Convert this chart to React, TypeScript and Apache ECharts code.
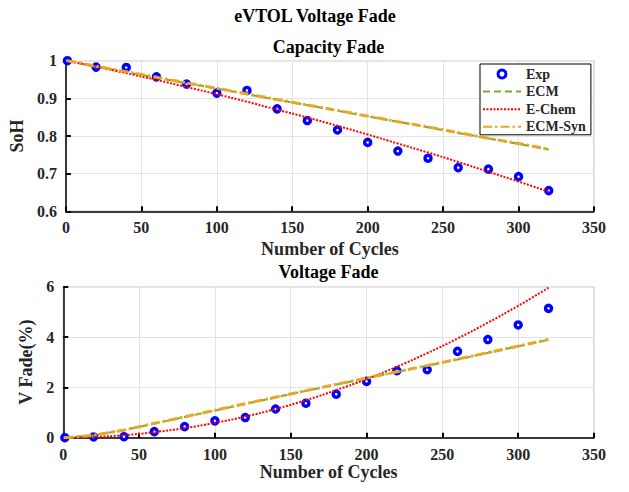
import React, { useEffect, useRef } from "react";
import * as echarts from "echarts";

const CYCLES = [1, 20, 40, 60, 80, 100, 120, 140, 160, 180, 200, 220, 240, 260, 280, 300, 320];

const SOH_EXP = [1.0, 0.983, 0.982, 0.957, 0.938, 0.914, 0.921, 0.872, 0.841, 0.816, 0.783, 0.76, 0.741, 0.716, 0.712, 0.692, 0.655];
const SOH_ECM = [1.0, 0.984, 0.970, 0.955, 0.940, 0.926, 0.911, 0.896, 0.882, 0.867, 0.852, 0.838, 0.823, 0.808, 0.794, 0.779, 0.764];
const SOH_ECHEM = [1.0, 0.984, 0.967, 0.949, 0.93, 0.911, 0.891, 0.87, 0.849, 0.827, 0.804, 0.78, 0.756, 0.731, 0.705, 0.679, 0.652];
const SOH_SYN = [1.0, 0.985, 0.971, 0.956, 0.941, 0.927, 0.912, 0.897, 0.882, 0.868, 0.853, 0.838, 0.824, 0.809, 0.794, 0.78, 0.765];

const VF_EXP = [0.0, 0.03, 0.04, 0.24, 0.44, 0.67, 0.8, 1.14, 1.37, 1.73, 2.24, 2.66, 2.7, 3.43, 3.9, 4.48, 5.14];
const VF_ECM = [0.0, 0.1, 0.3, 0.56, 0.82, 1.08, 1.34, 1.6, 1.86, 2.11, 2.36, 2.61, 2.86, 3.11, 3.37, 3.63, 3.89];
const VF_ECHEM = [0.0, 0.03, 0.1, 0.22, 0.38, 0.59, 0.84, 1.14, 1.49, 1.89, 2.33, 2.82, 3.36, 3.94, 4.57, 5.24, 5.96];
const VF_SYN = [0.0, 0.1, 0.3, 0.57, 0.83, 1.09, 1.35, 1.61, 1.87, 2.12, 2.37, 2.62, 2.87, 3.12, 3.38, 3.64, 3.9];

const X_TICKS = { min: 0, max: 350, interval: 50 };
const SOH_TICKS = { min: 0.6, max: 1, interval: 0.1 };
const VF_TICKS = { min: 0, max: 6, interval: 2 };

const NAMES = ["Exp", "ECM", "E-Chem", "ECM-Syn"];

const FONT = "'Liberation Serif', 'Times New Roman', serif";
const TXT = "#262626";
const BLUE = "#0000ff";
const GREEN = "#77AC30";
const RED = "#ff0000";
const ORANGE = "#E9A722";

const pairs = (ys: number[]) => CYCLES.map((c, i) => [c, ys[i]]);

function xAxis(gridIndex: number, nameGap: number, margin: number) {
  return {
    type: "value",
    gridIndex,
    ...X_TICKS,
    name: "Number of Cycles",
    nameLocation: "middle",
    nameGap,
    nameTextStyle: { fontFamily: FONT, fontWeight: "bold", fontSize: 18, color: TXT },
    axisLine: { show: true, lineStyle: { color: "#000", width: 1.5 } },
    axisTick: { show: true, inside: true, length: 5, lineStyle: { color: "#000", width: 2 } },
    axisLabel: { fontFamily: FONT, fontWeight: "bold", fontSize: 16, color: TXT, margin },
    splitLine: { show: true, lineStyle: { color: "#e3e3e3", width: 1 } },
  };
}

function yAxis(gridIndex: number, name: string, ticks: any, nameGap: number) {
  return {
    type: "value",
    gridIndex,
    ...ticks,
    name,
    nameLocation: "middle",
    nameGap,
    nameTextStyle: { fontFamily: FONT, fontWeight: "bold", fontSize: 18, color: TXT },
    axisLine: { show: true, lineStyle: { color: "#000", width: 1.5 } },
    axisTick: { show: true, inside: true, length: 5, lineStyle: { color: "#000", width: 2 } },
    axisLabel: { fontFamily: FONT, fontWeight: "bold", fontSize: 16, color: TXT, margin: 9 },
    splitLine: { show: true, lineStyle: { color: "#e3e3e3", width: 1 } },
  };
}

function seriesFor(idx: number, exp: number[], ecm: number[], echem: number[], syn: number[]) {
  return [
    {
      name: NAMES[0],
      type: "line",
      xAxisIndex: idx,
      yAxisIndex: idx,
      data: pairs(exp),
      symbol: "circle",
      symbolSize: 6,
      showSymbol: true,
      clip: false,
      itemStyle: { color: "#ffffff", borderColor: BLUE, borderWidth: 3.5 },
      lineStyle: { width: 0, opacity: 0 },
      z: 3,
    },
    {
      name: NAMES[1],
      type: "line",
      xAxisIndex: idx,
      yAxisIndex: idx,
      data: pairs(ecm),
      symbol: "none",
      itemStyle: { color: GREEN },
      lineStyle: { color: GREEN, width: 2, type: [7, 4] },
      z: 4,
    },
    {
      name: NAMES[2],
      type: "line",
      xAxisIndex: idx,
      yAxisIndex: idx,
      data: pairs(echem),
      symbol: "none",
      smooth: true,
      itemStyle: { color: RED },
      lineStyle: { color: RED, width: 2, type: [2, 1.5] },
      z: 5,
    },
    {
      name: NAMES[3],
      type: "line",
      xAxisIndex: idx,
      yAxisIndex: idx,
      data: pairs(syn),
      symbol: "none",
      itemStyle: { color: ORANGE },
      lineStyle: { color: ORANGE, width: 3, type: [9, 3, 2.5, 3] },
      z: 6,
    },
  ];
}

export default function App() {
  const ref = useRef<HTMLDivElement>(null);
  useEffect(() => {
    if (!ref.current) return;
    const chart = echarts.init(ref.current, null, { renderer: "svg" });
    const titleStyle = (text: string) => ({
      text,
      fontFamily: FONT,
      fontWeight: "bold",
      fontSize: 18,
      fill: "#000",
      align: "center",
      verticalAlign: "middle",
    });
    chart.setOption({
      animation: false,
      backgroundColor: "#fff",
      grid: [
        { left: 63.3, top: 60.7, width: 530.7, height: 150.6, show: true, borderColor: "#cfcfcf", borderWidth: 1.5 },
        { left: 63.3, top: 286.7, width: 530.7, height: 151, show: true, borderColor: "#cfcfcf", borderWidth: 1.5 },
      ],
      xAxis: [xAxis(0, 29, 8), xAxis(1, 21, 8.5)],
      yAxis: [yAxis(0, "SoH", SOH_TICKS, 32), yAxis(1, "V Fade(%)", VF_TICKS, 20)],
      legend: {
        data: [
          { name: NAMES[0], itemStyle: { color: "#ffffff", borderColor: BLUE, borderWidth: 3 } },
          { name: NAMES[1], itemStyle: { opacity: 0 } },
          { name: NAMES[2], itemStyle: { opacity: 0 } },
          { name: NAMES[3], itemStyle: { opacity: 0 } },
        ],
        orient: "vertical",
        left: 480,
        top: 64,
        itemWidth: 38,
        itemHeight: 10,
        itemGap: 3.6,
        padding: [3, 5, 1, 2],
        borderColor: "#000",
        borderWidth: 1,
        backgroundColor: "#fff",
        textStyle: { fontFamily: FONT, fontWeight: "bold", fontSize: 14, color: TXT, lineHeight: 14 },
      },
      graphic: [
        { type: "text", x: 315, y: 16, style: titleStyle("eVTOL Voltage Fade") },
        { type: "text", x: 328.5, y: 47.3, style: titleStyle("Capacity Fade") },
        { type: "text", x: 328.5, y: 271.8, style: titleStyle("Voltage Fade") },
      ],
      series: [
        ...seriesFor(0, SOH_EXP, SOH_ECM, SOH_ECHEM, SOH_SYN),
        ...seriesFor(1, VF_EXP, VF_ECM, VF_ECHEM, VF_SYN),
      ],
    });
    return () => chart.dispose();
  }, []);
  return (
    <div
      ref={ref}
      style={{ position: "absolute", left: 0, top: 0, width: 629, height: 492 }}
    />
  );
}
